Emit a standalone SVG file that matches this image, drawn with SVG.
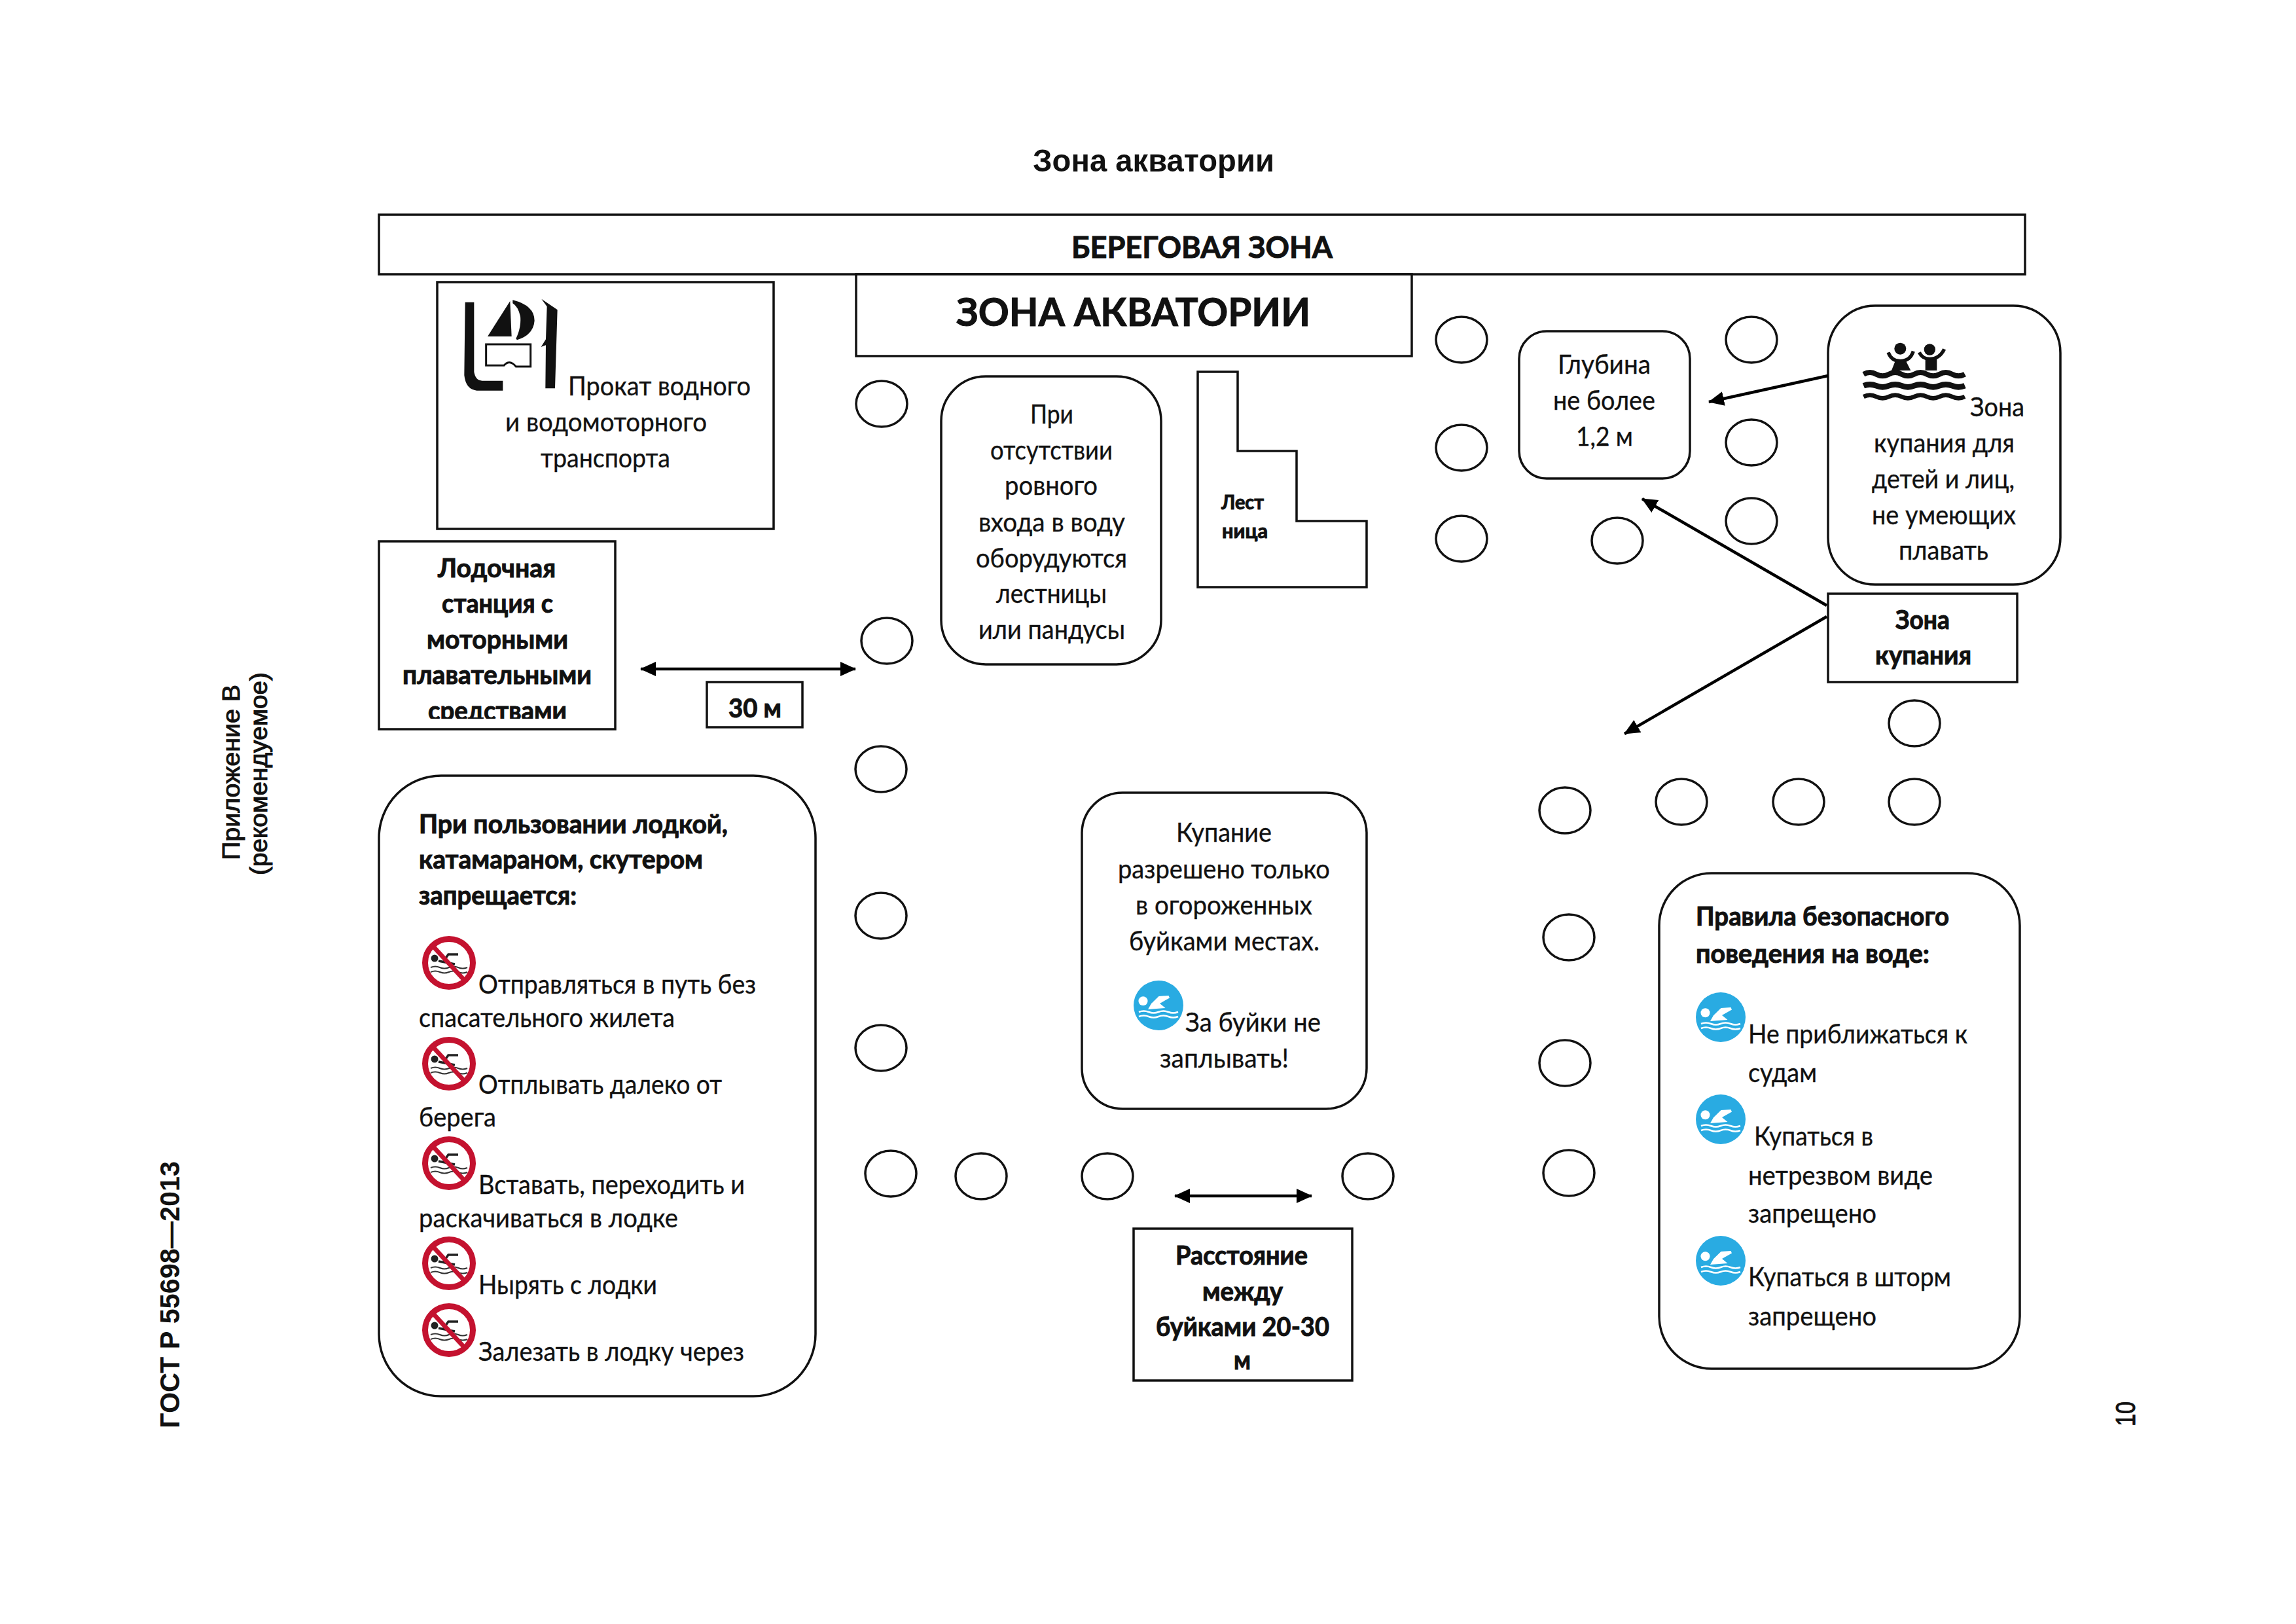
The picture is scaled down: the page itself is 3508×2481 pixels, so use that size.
<svg xmlns="http://www.w3.org/2000/svg" width="3508" height="2481" viewBox="0 0 3508 2481">
<style>
text{fill:#111}
.r{font-family:"Lato","Noto Sans","Liberation Sans",sans-serif;font-size:40px;stroke:#111;stroke-width:.35px}
.b{font-family:"Lato","Noto Sans","Liberation Sans",sans-serif;font-size:40px;font-weight:700;stroke:#111;stroke-width:1px}
.a{font-family:"Liberation Sans",Arial,sans-serif}
.m{stroke:#111;stroke-width:1px}
.box{fill:#fff;stroke:#111;stroke-width:3.5}
.buoy{fill:#fff;stroke:#111;stroke-width:3.5}
.arrow{fill:none;stroke:#000;stroke-width:4.5}
</style>
<defs>
<marker id="ah" viewBox="0 0 24 22" refX="23" refY="11" markerWidth="24" markerHeight="22" markerUnits="userSpaceOnUse" orient="auto-start-reverse"><path d="M0,0L24,11L0,22Z" fill="#000"/></marker>
<clipPath id="clipLod"><rect x="579" y="827" width="361" height="271"/></clipPath>
<g id="ban">
<circle r="36.5" fill="#fff" stroke="#c4122f" stroke-width="9"/>
<circle cx="-22" cy="-7" r="5.5" fill="#222"/>
<path d="M14,-13H-1L-8,-3M-16,-3L9,2" fill="none" stroke="#222" stroke-width="3.5"/>
<path d="M-28,7q7,-3 14,0t14,0t14,0t14,0M-28,14q7,-3 14,0t14,0t14,0t14,0" fill="none" stroke="#333" stroke-width="2"/>
<path d="M-24,-25L24,27" stroke="#c4122f" stroke-width="7"/>
</g>
<g id="swim">
<circle r="38" fill="#29abe2"/>
<circle cx="-23.5" cy="-6.7" r="7" fill="#fff"/>
<path d="M15.500,-15L0.500,-14L-11,-2.700L-16,6L10.500,4L2,-3L17,-11.500Z" fill="#fff"/>
<path d="M-30,10q7.500,-3 15,0t15,0t15,0t15,0M-30,17q7.500,-3 15,0t15,0t15,0t15,0" fill="none" stroke="#fff" stroke-width="2.500"/>
</g>
</defs>
<rect width="3508" height="2481" fill="#fff"/>

<g id="page-text">
<text class="a" x="1578" y="262" font-size="49" font-weight="700" textLength="369" lengthAdjust="spacingAndGlyphs">Зона акватории</text>
<text class="a" transform="translate(274,2182) rotate(-90)" font-size="43" font-weight="700" textLength="408" lengthAdjust="spacingAndGlyphs">ГОСТ Р 55698—2013</text>
<text class="a m" transform="translate(366,1314) rotate(-90)" font-size="37" textLength="268" lengthAdjust="spacingAndGlyphs">Приложение В</text>
<text class="a m" transform="translate(408,1337) rotate(-90)" font-size="37" textLength="310" lengthAdjust="spacingAndGlyphs">(рекомендуемое)</text>
<text class="a m" transform="translate(3262,2179) rotate(-90)" font-size="42" textLength="38" lengthAdjust="spacingAndGlyphs">10</text>
</g>

<g id="node-bereg">
<rect class="box" x="579" y="328" width="2515" height="91" stroke-width="4"/>
<text class="b" style="font-size:46px" x="1637" y="394" textLength="399" lengthAdjust="spacingAndGlyphs">БЕРЕГОВАЯ ЗОНА</text>
</g>
<g id="node-akvatoria">
<rect class="box" x="1308" y="419" width="849" height="125"/>
<text class="b" style="font-size:59px" x="1461" y="498" textLength="541" lengthAdjust="spacingAndGlyphs">ЗОНА АКВАТОРИИ</text>
</g>
<g id="node-prokat">
<rect class="box" x="668" y="431" width="514" height="377"/>
<g transform="translate(690,440) scale(0.3333)">
<path d="M62,65L103,65L103,385Q110,425 140,425L235,425L235,470L115,470Q65,465 58,400Z" fill="#111"/>
<path d="M268,60L275,222L165,222Z" fill="#111"/>
<path d="M280,55Q380,80 380,150Q375,215 300,238L295,232Q320,180 315,130Q305,85 280,70Z" fill="#111"/>
<path d="M158,258H362V360H295Q265,325 240,355H158Z" fill="#fff" stroke="#111" stroke-width="9"/>
<path d="M412,50L485,100L474,460L430,460L432,262L410,270L432,235L437,85Z" fill="#111"/>
</g>
<text class="r" x="868" y="604" textLength="279" lengthAdjust="spacingAndGlyphs">Прокат водного</text>
<text class="r" x="772" y="659" textLength="308" lengthAdjust="spacingAndGlyphs">и водомоторного</text>
<text class="r" x="826" y="714" textLength="198" lengthAdjust="spacingAndGlyphs">транспорта</text>
</g>
<g id="node-lodochnaya">
<rect class="box" x="579" y="827" width="361" height="287"/>
<text class="b" x="669" y="882" textLength="180" lengthAdjust="spacingAndGlyphs">Лодочная</text>
<text class="b" x="675" y="936" textLength="170" lengthAdjust="spacingAndGlyphs">станция с</text>
<text class="b" x="652" y="991" textLength="216" lengthAdjust="spacingAndGlyphs">моторными</text>
<text class="b" x="615" y="1045" textLength="289" lengthAdjust="spacingAndGlyphs">плавательными</text>
<text class="b" x="654" y="1100" textLength="212" lengthAdjust="spacingAndGlyphs" clip-path="url(#clipLod)">средствами</text>
</g>
<g id="node-30m">
<rect class="box" x="1080" y="1042" width="146" height="69"/>
<text class="b" x="1113" y="1096" textLength="81" lengthAdjust="spacingAndGlyphs">30 м</text>
</g>
<g id="node-lestnicy">
<rect class="box" x="1438" y="575" width="336" height="440" rx="68"/>
<text class="r" x="1574" y="647" textLength="66" lengthAdjust="spacingAndGlyphs">При</text>
<text class="r" x="1513" y="702" textLength="187" lengthAdjust="spacingAndGlyphs">отсутствии</text>
<text class="r" x="1535" y="756" textLength="142" lengthAdjust="spacingAndGlyphs">ровного</text>
<text class="r" x="1495" y="812" textLength="224" lengthAdjust="spacingAndGlyphs">входа в воду</text>
<text class="r" x="1491" y="867" textLength="231" lengthAdjust="spacingAndGlyphs">оборудуются</text>
<text class="r" x="1522" y="921" textLength="169" lengthAdjust="spacingAndGlyphs">лестницы</text>
<text class="r" x="1495" y="976" textLength="224" lengthAdjust="spacingAndGlyphs">или пандусы</text>
</g>
<g id="node-lestnica">
<path class="box" d="M1830,568H1891V689H1981V796H2088V897H1830Z"/>
<text class="b" style="font-size:30px" x="1866" y="778" textLength="65" lengthAdjust="spacingAndGlyphs">Лест</text>
<text class="b" style="font-size:30px" x="1867" y="822" textLength="70" lengthAdjust="spacingAndGlyphs">ница</text>
</g>
<g id="node-glubina">
<rect class="box" x="2321" y="506" width="261" height="225" rx="42"/>
<text class="r" x="2380" y="571" textLength="142" lengthAdjust="spacingAndGlyphs">Глубина</text>
<text class="r" x="2373" y="626" textLength="156" lengthAdjust="spacingAndGlyphs">не более</text>
<text class="r" x="2408" y="681" textLength="87" lengthAdjust="spacingAndGlyphs">1,2 м</text>
</g>
<g id="node-deti">
<rect class="box" x="2793" y="467" width="355" height="426" rx="72"/>
<g transform="translate(2840,510) scale(0.3333)" fill="#111">
<circle cx="190" cy="68" r="27"/>
<circle cx="325" cy="72" r="26"/>
<path d="M135,85Q150,125 190,125Q235,125 250,80M277,85Q292,115 325,115Q370,115 392,70" fill="none" stroke="#111" stroke-width="16"/>
<path d="M168,122L215,122L238,168L150,168Z"/>
<path d="M305,110L358,110L358,168L305,168Z"/>
<path d="M22,185q29,-16 58,0t58,0t58,0t58,0t58,0t58,0t58,0t58,0" fill="none" stroke="#111" stroke-width="24"/>
<path d="M22,238q29,-12 58,0t58,0t58,0t58,0t58,0t58,0t58,0t58,0" fill="none" stroke="#111" stroke-width="26"/>
<path d="M22,288q29,-14 58,0t58,0t58,0t58,0t58,0t58,0t58,0t58,0" fill="none" stroke="#111" stroke-width="20"/>
</g>
<text class="r" x="3010" y="636" textLength="83" lengthAdjust="spacingAndGlyphs">Зона</text>
<text class="r" x="2863" y="691" textLength="215" lengthAdjust="spacingAndGlyphs">купания для</text>
<text class="r" x="2860" y="746" textLength="218" lengthAdjust="spacingAndGlyphs">детей и лиц,</text>
<text class="r" x="2860" y="801" textLength="220" lengthAdjust="spacingAndGlyphs">не умеющих</text>
<text class="r" x="2901" y="855" textLength="137" lengthAdjust="spacingAndGlyphs">плавать</text>
</g>
<g id="node-zona-kupania">
<rect class="box" x="2793" y="907" width="289" height="135"/>
<text class="b" x="2896" y="961" textLength="83" lengthAdjust="spacingAndGlyphs">Зона</text>
<text class="b" x="2865" y="1015" textLength="147" lengthAdjust="spacingAndGlyphs">купания</text>
</g>
<g id="node-zapret">
<rect class="box" x="579" y="1185" width="667" height="948" rx="95"/>
<text class="b" x="640" y="1273" textLength="472" lengthAdjust="spacingAndGlyphs">При пользовании лодкой,</text>
<text class="b" x="640" y="1327" textLength="434" lengthAdjust="spacingAndGlyphs">катамараном, скутером</text>
<text class="b" x="640" y="1382" textLength="241" lengthAdjust="spacingAndGlyphs">запрещается:</text>
<use href="#ban" x="686" y="1471"/>
<use href="#ban" x="686" y="1625"/>
<use href="#ban" x="686" y="1777"/>
<use href="#ban" x="686" y="1930"/>
<use href="#ban" x="686" y="2032"/>
<text class="r" x="731" y="1518" textLength="424" lengthAdjust="spacingAndGlyphs">Отправляться в путь без</text>
<text class="r" x="640" y="1569" textLength="391" lengthAdjust="spacingAndGlyphs">спасательного жилета</text>
<text class="r" x="731" y="1671" textLength="372" lengthAdjust="spacingAndGlyphs">Отплывать далеко от</text>
<text class="r" x="640" y="1721" textLength="118" lengthAdjust="spacingAndGlyphs">берега</text>
<text class="r" x="731" y="1824" textLength="407" lengthAdjust="spacingAndGlyphs">Вставать, переходить и</text>
<text class="r" x="640" y="1875" textLength="396" lengthAdjust="spacingAndGlyphs">раскачиваться в лодке</text>
<text class="r" x="731" y="1977" textLength="273" lengthAdjust="spacingAndGlyphs">Нырять с лодки</text>
<text class="r" x="731" y="2079" textLength="406" lengthAdjust="spacingAndGlyphs">Залезать в лодку через</text>
</g>
<g id="node-kupanie">
<rect class="box" x="1653" y="1211" width="435" height="483" rx="62"/>
<text class="r" x="1797" y="1286" textLength="146" lengthAdjust="spacingAndGlyphs">Купание</text>
<text class="r" x="1708" y="1342" textLength="324" lengthAdjust="spacingAndGlyphs">разрешено только</text>
<text class="r" x="1735" y="1397" textLength="270" lengthAdjust="spacingAndGlyphs">в огороженных</text>
<text class="r" x="1725" y="1452" textLength="291" lengthAdjust="spacingAndGlyphs">буйками местах.</text>
<use href="#swim" x="1770" y="1536"/>
<text class="r" x="1811" y="1576" textLength="207" lengthAdjust="spacingAndGlyphs">За буйки не</text>
<text class="r" x="1772" y="1631" textLength="197" lengthAdjust="spacingAndGlyphs">заплывать!</text>
</g>
<g id="node-rasstoyanie">
<rect class="box" x="1732" y="1877" width="334" height="232"/>
<text class="b" x="1796" y="1932" textLength="202" lengthAdjust="spacingAndGlyphs">Расстояние</text>
<text class="b" x="1837" y="1987" textLength="123" lengthAdjust="spacingAndGlyphs">между</text>
<text class="b" x="1766" y="2041" textLength="265" lengthAdjust="spacingAndGlyphs">буйками 20-30</text>
<text class="b" x="1885" y="2092" textLength="26" lengthAdjust="spacingAndGlyphs">м</text>
</g>
<g id="node-pravila">
<rect class="box" x="2535" y="1334" width="551" height="757" rx="80"/>
<text class="b" x="2591" y="1414" textLength="387" lengthAdjust="spacingAndGlyphs">Правила безопасного</text>
<text class="b" x="2591" y="1471" textLength="357" lengthAdjust="spacingAndGlyphs">поведения на воде:</text>
<use href="#swim" x="2629" y="1554"/>
<use href="#swim" x="2629" y="1710"/>
<use href="#swim" x="2629" y="1926"/>
<text class="r" x="2671" y="1594" textLength="335" lengthAdjust="spacingAndGlyphs">Не приближаться к</text>
<text class="r" x="2671" y="1653" textLength="105" lengthAdjust="spacingAndGlyphs">судам</text>
<text class="r" x="2680" y="1750" textLength="182" lengthAdjust="spacingAndGlyphs">Купаться в</text>
<text class="r" x="2671" y="1810" textLength="282" lengthAdjust="spacingAndGlyphs">нетрезвом виде</text>
<text class="r" x="2671" y="1868" textLength="196" lengthAdjust="spacingAndGlyphs">запрещено</text>
<text class="r" x="2671" y="1965" textLength="310" lengthAdjust="spacingAndGlyphs">Купаться в шторм</text>
<text class="r" x="2671" y="2025" textLength="196" lengthAdjust="spacingAndGlyphs">запрещено</text>
</g>

<g id="buoys">
<g id="buoy-1"><ellipse class="buoy" cx="1347" cy="617" rx="39" ry="35"/></g>
<g id="buoy-2"><ellipse class="buoy" cx="1355" cy="979" rx="39" ry="35"/></g>
<g id="buoy-3"><ellipse class="buoy" cx="1346" cy="1175" rx="39" ry="35"/></g>
<g id="buoy-4"><ellipse class="buoy" cx="1346" cy="1399" rx="39" ry="35"/></g>
<g id="buoy-5"><ellipse class="buoy" cx="1346" cy="1601" rx="39" ry="35"/></g>
<g id="buoy-6"><ellipse class="buoy" cx="1361" cy="1793" rx="39" ry="35"/></g>
<g id="buoy-7"><ellipse class="buoy" cx="1499" cy="1797" rx="39" ry="35"/></g>
<g id="buoy-8"><ellipse class="buoy" cx="1692" cy="1797" rx="39" ry="35"/></g>
<g id="buoy-9"><ellipse class="buoy" cx="2090" cy="1797" rx="39" ry="35"/></g>
<g id="buoy-10"><ellipse class="buoy" cx="2233" cy="519" rx="39" ry="35"/></g>
<g id="buoy-11"><ellipse class="buoy" cx="2233" cy="684" rx="39" ry="35"/></g>
<g id="buoy-12"><ellipse class="buoy" cx="2233" cy="823" rx="39" ry="35"/></g>
<g id="buoy-13"><ellipse class="buoy" cx="2471" cy="826" rx="39" ry="35"/></g>
<g id="buoy-14"><ellipse class="buoy" cx="2676" cy="519" rx="39" ry="35"/></g>
<g id="buoy-15"><ellipse class="buoy" cx="2676" cy="676" rx="39" ry="35"/></g>
<g id="buoy-16"><ellipse class="buoy" cx="2676" cy="796" rx="39" ry="35"/></g>
<g id="buoy-17"><ellipse class="buoy" cx="2925" cy="1105" rx="39" ry="35"/></g>
<g id="buoy-18"><ellipse class="buoy" cx="2391" cy="1238" rx="39" ry="35"/></g>
<g id="buoy-19"><ellipse class="buoy" cx="2569" cy="1225" rx="39" ry="35"/></g>
<g id="buoy-20"><ellipse class="buoy" cx="2748" cy="1225" rx="39" ry="35"/></g>
<g id="buoy-21"><ellipse class="buoy" cx="2925" cy="1225" rx="39" ry="35"/></g>
<g id="buoy-22"><ellipse class="buoy" cx="2397" cy="1432" rx="39" ry="35"/></g>
<g id="buoy-23"><ellipse class="buoy" cx="2391" cy="1624" rx="39" ry="35"/></g>
<g id="buoy-24"><ellipse class="buoy" cx="2397" cy="1792" rx="39" ry="35"/></g>
</g>

<g id="connectors">
<path class="arrow" d="M979,1022H1307" marker-start="url(#ah)" marker-end="url(#ah)"/>
<path class="arrow" d="M1795,1827H2004" marker-start="url(#ah)" marker-end="url(#ah)"/>
<path class="arrow" d="M2793,574L2611,614" marker-end="url(#ah)"/>
<path class="arrow" d="M2791,925L2509,762" marker-end="url(#ah)"/>
<path class="arrow" d="M2791,942L2482,1121" marker-end="url(#ah)"/>
</g>
</svg>
